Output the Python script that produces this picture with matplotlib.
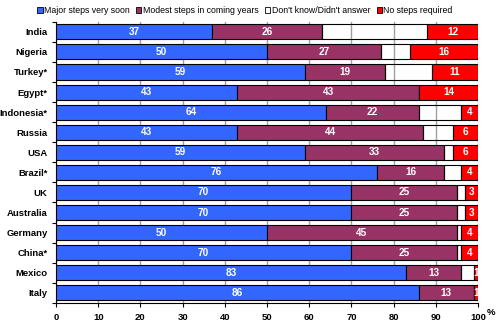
import numpy as np
import matplotlib
matplotlib.use('Agg')
import matplotlib.pyplot as plt
from matplotlib.patches import Patch

countries = ["India", "Nigeria", "Turkey*", "Egypt*", "Indonesia*", "Russia", "USA",
             "Brazil*", "UK", "Australia", "Germany", "China*", "Mexico", "Italy"]
major = [37, 50, 59, 43, 64, 43, 59, 76, 70, 70, 50, 70, 83, 86]
modest = [26, 27, 19, 43, 22, 44, 33, 16, 25, 25, 45, 25, 13, 13]
dont_know = [25, 7, 11, 0, 10, 7, 2, 4, 2, 2, 1, 1, 3, 0]
no_steps = [12, 16, 11, 14, 4, 6, 6, 4, 3, 3, 4, 4, 1, 1]
series_names = ["Major steps very soon", "Modest steps in coming years",
                "Don't know/Didn't answer", "No steps required"]

blue = '#3366ff'
maroon = '#993366'
red = '#ff0000'

plt.rcParams['font.family'] = ['Liberation Sans', 'DejaVu Sans']

fig = plt.figure(figsize=(5, 3.25), dpi=100)
ax = fig.add_axes([0.112, 0.068, 0.844, 0.865])

y = np.arange(len(countries))
h = 0.75
major = np.array(major)
modest = np.array(modest)
dont_know = np.array(dont_know)
no_steps = np.array(no_steps)

b1 = ax.barh(y, major, height=h, color=blue, edgecolor='black', linewidth=0.8, zorder=3)
b2 = ax.barh(y, modest, left=major, height=h, color=maroon, edgecolor='black', linewidth=0.8, zorder=3)
b3 = ax.barh(y, dont_know, left=major + modest, height=h, facecolor='none',
             edgecolor='black', linewidth=0.8, zorder=3)
b4 = ax.barh(y, no_steps, left=major + modest + dont_know, height=h, color=red,
             edgecolor='black', linewidth=0.8, zorder=3)

# value labels centred in each coloured segment
for bars, vals in [(b1, major), (b2, modest), (b4, no_steps)]:
    for bar, v in zip(bars, vals):
        if v <= 0:
            continue
        cx = bar.get_x() + bar.get_width() / 2
        ax.text(cx, bar.get_y() + bar.get_height() / 2, str(v), ha='center', va='center',
                color='white', fontsize=7.2, fontweight='bold', zorder=4)

ax.set_xlim(0, 100)
ax.set_ylim(len(countries) - 0.5, -0.5)
ax.set_xticks(np.arange(0, 101, 10))
ax.set_yticks(y)
ax.set_yticklabels(countries)
ax.set_yticks(np.arange(-0.5, len(countries), 1), minor=True)
ax.tick_params(axis='y', which='major', length=0, pad=6)
ax.tick_params(axis='y', which='minor', length=3, width=0.8)
ax.tick_params(axis='x', length=3, width=0.8, pad=4)
for lab in ax.get_xticklabels() + ax.get_yticklabels():
    lab.set_fontsize(6.8)
    lab.set_fontweight('bold')

ax.grid(axis='x', color='#a0a0a0', linewidth=1.0, zorder=0)
for s in ['top', 'right']:
    ax.spines[s].set_visible(False)
ax.spines['left'].set_linewidth(0.8)
ax.spines['bottom'].set_linewidth(0.8)

ax.annotate('%', xy=(1.0, 0), xycoords='axes fraction', xytext=(6, -4),
            textcoords='offset points', ha='left', va='top', fontsize=6.8, fontweight='bold')

handles = [Patch(facecolor=blue, edgecolor='black', linewidth=0.6),
           Patch(facecolor=maroon, edgecolor='black', linewidth=0.6),
           Patch(facecolor='white', edgecolor='black', linewidth=0.6),
           Patch(facecolor=red, edgecolor='black', linewidth=0.6)]
fig.legend(handles, series_names, loc='upper center', bbox_to_anchor=(0.49, 1.005), ncol=4,
           frameon=False, fontsize=6.3, handlelength=0.6, handleheight=0.6,
           handletextpad=0.15, columnspacing=0.75)

fig.savefig('out.png', dpi=100)
